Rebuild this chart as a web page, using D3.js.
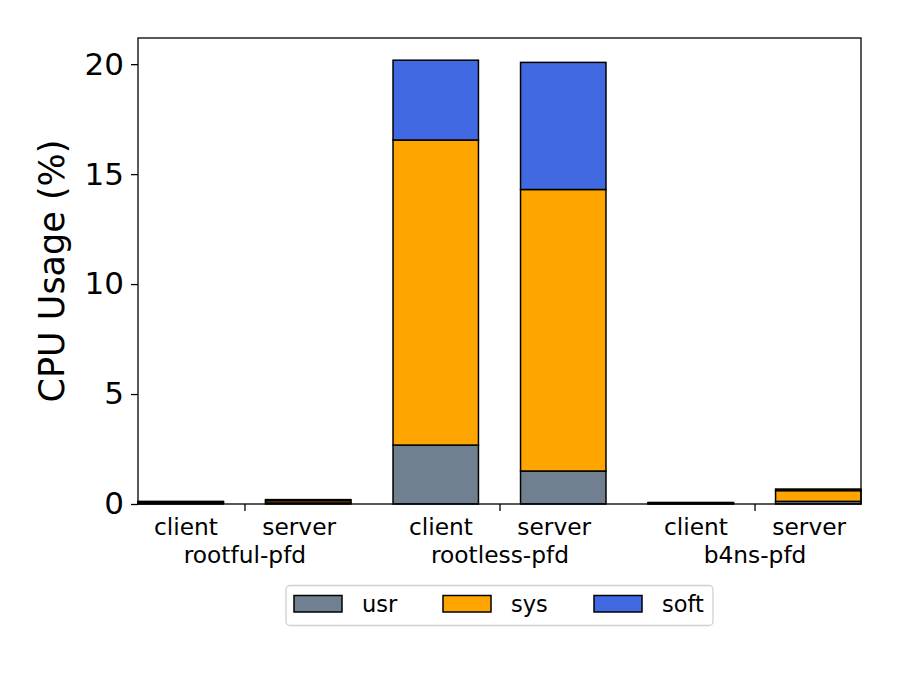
<!DOCTYPE html>
<meta charset="utf-8">
<style>
body { margin: 0; background: #fff; }
text { font-family: "DejaVu Sans", sans-serif; fill: #000; }
</style>
<svg width="899" height="675"></svg>
<script src="https://d3js.org/d3.v7.min.js"></script>
<script>

var groups = ["rootful-pfd", "rootless-pfd", "b4ns-pfd"];
var roles = ["client", "server"];

// one value per bar: rootful client/server, rootless client/server, b4ns client/server
var usr  = [0.04, 0.05, 2.68, 1.50, 0.02, 0.12];
var sys  = [0.05, 0.10, 13.87, 12.80, 0.03, 0.49];
var soft = [0.03, 0.05, 3.63, 5.78, 0.02, 0.07];

var seriesNames = ["usr", "sys", "soft"];
var colours = ["#708090", "#ffa500", "#4169e1"];
var yTicks = [0, 5, 10, 15, 20];

var svg = d3.select("svg"),
    plotLeft = 138, plotRight = 861, plotTop = 38, plotBottom = 504,
    barWidth = 0.335;

var bars = [];
groups.forEach(function(grp, g) {
  roles.forEach(function(role, r) {
    var i = g * 2 + r;
    bars.push({ group: grp, role: role, pos: g + (r ? 0.25 : -0.25), usr: usr[i], sys: sys[i], soft: soft[i] });
  });
});

var stacked = d3.stack().keys(seriesNames)(bars);

var x = d3.scaleLinear()
    .domain([-0.25 - barWidth / 2, 2.25 + barWidth / 2])
    .range([plotLeft, plotRight]);

var ymax = 1.05 * d3.max(bars, function(d) { return d.usr + d.sys + d.soft; });
var y = d3.scaleLinear().domain([0, ymax]).range([plotBottom, plotTop]);

var g = svg.append("g");

// bars
stacked.forEach(function(layer, k) {
  g.append("g").selectAll("rect")
    .data(layer)
    .enter().append("rect")
      .attr("x", function(d) { return x(d.data.pos - barWidth / 2); })
      .attr("width", function(d) { return x(barWidth) - x(0); })
      .attr("y", function(d) { return y(d[1]); })
      .attr("height", function(d) { return y(d[0]) - y(d[1]); })
      .attr("fill", colours[k])
      .attr("stroke", "#000")
      .attr("stroke-width", 1.5);
});

// frame
svg.append("rect")
    .attr("x", plotLeft).attr("y", plotTop)
    .attr("width", plotRight - plotLeft).attr("height", plotBottom - plotTop)
    .attr("fill", "none").attr("stroke", "#000").attr("stroke-width", 1.3);

// y axis
var yAxis = svg.append("g")
    .attr("transform", "translate(" + plotLeft + ",0)")
    .call(d3.axisLeft(y).tickValues(yTicks).tickSize(7).tickPadding(7));
yAxis.select(".domain").remove();
yAxis.selectAll("line").attr("stroke-width", 1.3);
yAxis.selectAll("text").style("font-size", "31px").attr("font-family", null);

svg.append("text")
    .attr("transform", "translate(52," + (plotTop + plotBottom) / 2 + ") rotate(-90)")
    .attr("text-anchor", "middle")
    .attr("dy", "0.35em")
    .style("font-size", "35px")
    .text("CPU Usage (%)");

// x axis: one tick per group, label is "client      server" over the group name
var xAxis = svg.append("g")
    .attr("transform", "translate(0," + plotBottom + ")")
    .call(d3.axisBottom(x).tickValues([0, 1, 2]).tickSize(7).tickFormat(function(d, i) { return groups[i]; }));
xAxis.select(".domain").remove();
xAxis.selectAll("line").attr("stroke-width", 1.3);
xAxis.selectAll("text")
    .attr("y", 59).attr("dy", null)
    .attr("font-family", null)
    .style("font-size", "23.3px");

xAxis.selectAll(".tick").append("text")
    .attr("y", 31)
    .attr("fill", "#000")
    .style("font-size", "23.3px")
    .style("white-space", "pre")
    .text(roles.join("      "));

// legend
var legend = svg.append("g");
legend.append("rect")
    .attr("x", 286).attr("y", 585.5)
    .attr("width", 427).attr("height", 40)
    .attr("rx", 4)
    .attr("fill", "#fff").attr("stroke", "#d0d0d0").attr("stroke-width", 1.3);

var legendX = [294, 443, 594];
seriesNames.forEach(function(name, k) {
  legend.append("rect")
      .attr("x", legendX[k]).attr("y", 595.5)
      .attr("width", 48).attr("height", 16.5)
      .attr("fill", colours[k])
      .attr("stroke", "#000").attr("stroke-width", 1.5);
  legend.append("text")
      .attr("x", legendX[k] + 68)
      .attr("y", 612)
      .style("font-size", "22.5px")
      .text(name);
});

</script>
